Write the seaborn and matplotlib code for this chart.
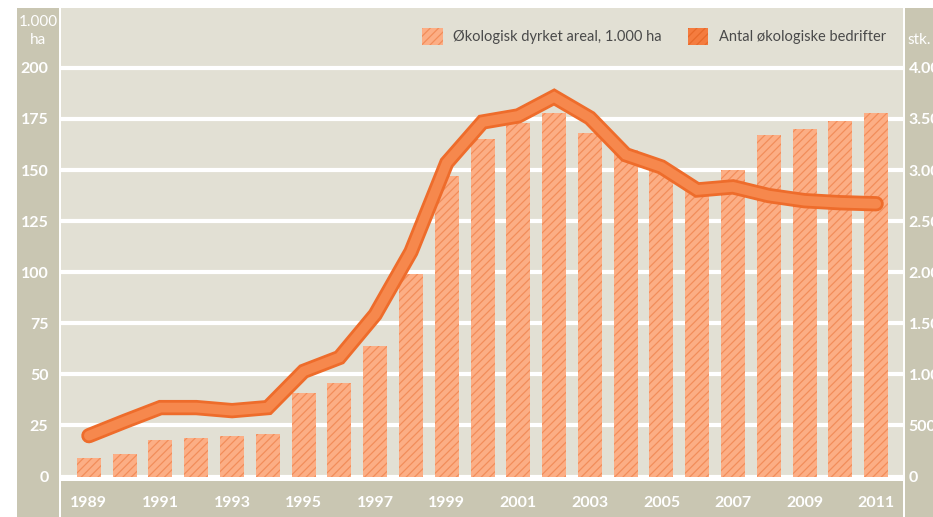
import matplotlib
matplotlib.use("Agg")
import matplotlib.pyplot as plt
import seaborn as sns
import pandas as pd
from matplotlib.patches import Rectangle, Patch

years = list(range(1989, 2012))
areal = [9, 11, 18, 19, 20, 21, 41, 46, 64, 99, 147, 165, 173, 178, 168, 160,
         150, 144, 150, 167, 170, 174, 178]
bedrifter = [400, 540, 675, 675, 645, 675, 1030, 1165, 1585, 2200, 3070, 3470,
             3530, 3715, 3510, 3150, 3030, 2805, 2835, 2750, 2700, 2680, 2670]
left_ticks = [0, 25, 50, 75, 100, 125, 150, 175, 200]
right_ticks = [0, 500, 1000, 1500, 2000, 2500, 3000, 3500, 4000]
right_labels = ["0", "500", "1.000", "1.500", "2.000", "2.500", "3.000", "3.500", "4.000"]
xlabel_years = [str(y) for y in years]

sns.set_theme(style="white")
plt.rcParams['font.family'] = ['Lato', 'DejaVu Sans']
plt.rcParams['hatch.linewidth'] = 0.9

W, H = 933, 517
fig = plt.figure(figsize=(W / 100, H / 100), dpi=100)
fig.patch.set_facecolor("white")

panel = "#c9c6b2"
plotbg = "#e2e0d4"

def frect(x0, y0, x1, y1, color):
    fig.patches.append(Rectangle((x0 / W, 1 - y1 / H), (x1 - x0) / W, (y1 - y0) / H,
                                 transform=fig.transFigure, facecolor=color,
                                 edgecolor="none", zorder=-10))

frect(17, 8, 59, H, panel)
frect(905, 8, W, H, panel)
frect(61, 481, 903, H, panel)

ax_l, ax_r, ax_t, ax_b = 61, 903, 8, 479
ax = fig.add_axes([ax_l / W, 1 - ax_b / H, (ax_r - ax_l) / W, (ax_b - ax_t) / H])
ax.set_facecolor(plotbg)

df = pd.DataFrame({"year": [str(y) for y in years], "areal": areal, "bedrifter": bedrifter})
sns.barplot(data=df, x="year", y="areal", ax=ax, color="#fcae85", width=0.67,
            saturation=1)
for p in ax.patches:
    p.set_hatch("////")
    p.set_edgecolor("#f28d5a")
    p.set_linewidth(0)
    p.set_zorder(2)

ymin, ymax = -1.2, 229.3
ax.set_ylim(ymin, ymax)
ax.set_xlim(-0.78, 22.75)
for t in left_ticks:
    ax.axhline(t, color="white", lw=3, zorder=1)

ax2 = ax.twinx()
ax2.set_ylim(ymin * 20, ymax * 20)
x = list(range(len(years)))
sns.lineplot(x=x, y=bedrifter, ax=ax2, color="#ee6c2b", lw=11, zorder=3,
             solid_joinstyle="miter")
sns.lineplot(x=x, y=bedrifter, ax=ax2, color="#f6884d", lw=7, zorder=4,
             solid_joinstyle="miter")
ax2.set_xlim(-0.78, 22.75)

for a in (ax, ax2):
    for s in a.spines.values():
        s.set_visible(False)
    a.set_xlabel("")
    a.set_ylabel("")
    a.tick_params(length=0)

ax.set_yticks(left_ticks)
ax.set_yticklabels([str(t) for t in left_ticks], color="white", fontsize=11.5,
                   fontweight="bold")
ax.tick_params(axis="y", pad=9)
ax.set_xticks(range(0, len(years), 2))
ax.set_xticklabels(xlabel_years[::2], color="white", fontsize=11.5, fontweight="bold")
ax.tick_params(axis="x", pad=12)

ax2.set_yticks(right_ticks)
ax2.set_yticklabels(right_labels, color="white", fontsize=11.5, fontweight="bold")
ax2.tick_params(axis="y", pad=4)

fig.text(38 / W, 1 - 22 / H, "1.000", color="white", fontsize=11, ha="center", va="center")
fig.text(38 / W, 1 - 40 / H, "ha", color="white", fontsize=11, ha="center", va="center")
fig.text(907 / W, 1 - 40 / H, "stk.", color="white", fontsize=11, ha="left", va="center")

handles = [Patch(facecolor="#fcae85", edgecolor="#f28d5a", hatch="////", lw=0),
           Patch(facecolor="#f47c3f", edgecolor="#e86a2a", hatch="////", lw=0)]
leg = ax.legend(handles, ["Økologisk dyrket areal, 1.000 ha", "Antal økologiske bedrifter"],
                loc="upper right", bbox_to_anchor=(0.995, 0.985), ncol=2, frameon=False,
                fontsize=10.5, handlelength=1.4, handleheight=1.4, columnspacing=1.8,
                handletextpad=0.7)
for t in leg.get_texts():
    t.set_color("#4a4a4a")

fig.savefig("out.png", dpi=100, facecolor="white")
